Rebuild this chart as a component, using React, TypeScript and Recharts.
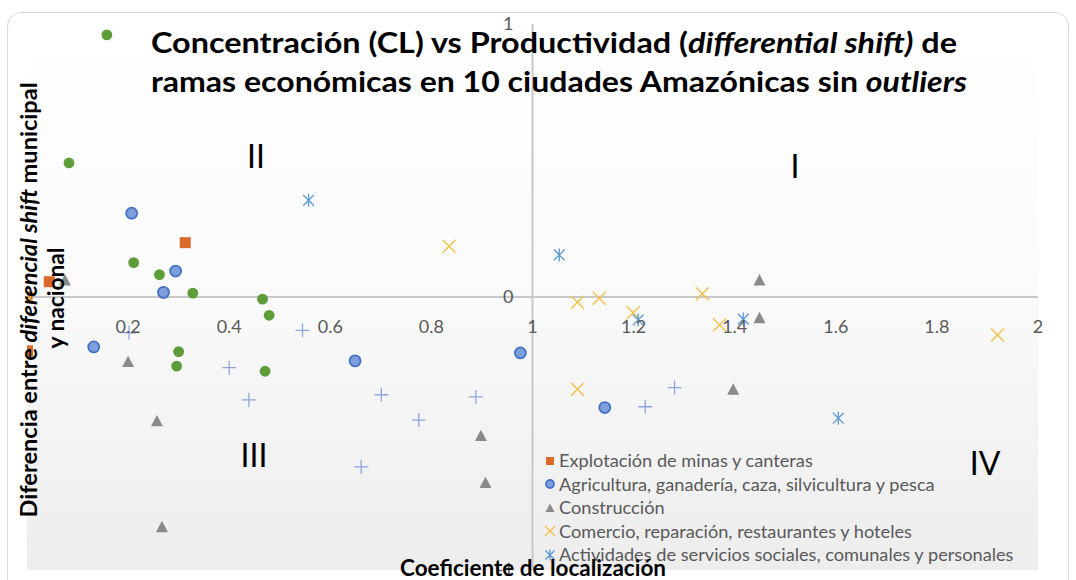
import React from 'react';
import { ScatterChart, Scatter, XAxis, YAxis, ReferenceLine, Legend } from 'recharts';

const W = 1076;
const H = 580;
const M = { top: 24, right: 38, bottom: 9, left: 26 };
const PLOT_W = W - M.left - M.right - 1;
const PLOT_H = H - M.top - M.bottom - 1;
const ZERO_Y = M.top + PLOT_H / 2;
const ONE_X = M.left + 1 + PLOT_W / 2;
const FONT = 'Lato, "Open Sans", sans-serif';

const xTicks = [0.2, 0.4, 0.6, 0.8, 1, 1.2, 1.4, 1.6, 1.8, 2];
const yTicks = [-1, 0, 1];

// [CL, differential shift]
const minas = [[0.313, 0.199], [0.044, 0.056], [0.001, -0.197], [0.0, 0.0]];
const agricultura = [[0.207, 0.307], [0.294, 0.095], [0.27, 0.017], [0.132, -0.183], [0.649, -0.234], [0.976, -0.205], [1.143, -0.405]];
const construccion = [[0.075, 0.062], [0.2, -0.237], [0.257, -0.454], [0.267, -0.842], [0.898, -0.508], [0.907, -0.68], [1.449, 0.062], [1.449, -0.076], [1.397, -0.338]];
const comercio = [[0.835, 0.186], [1.089, -0.019], [1.132, -0.005], [1.199, -0.058], [1.336, 0.012], [1.37, -0.103], [1.92, -0.139], [1.089, -0.338], [0.004, -0.004]];
const servicios = [[0.557, 0.354], [1.053, 0.154], [1.209, -0.084], [1.417, -0.081], [1.605, -0.444]];
const serieVerde = [[0.158, 0.96], [0.083, 0.491], [0.211, 0.126], [0.262, 0.082], [0.328, 0.014], [0.466, -0.008], [0.479, -0.067], [0.3, -0.2], [0.296, -0.253], [0.471, -0.272]];
const serieCruz = [[0.202, -0.131], [0.4, -0.259], [0.545, -0.122], [0.439, -0.377], [0.701, -0.358], [0.775, -0.451], [0.888, -0.366], [0.661, -0.622], [1.281, -0.332], [1.223, -0.402]];

const toPts = (arr: number[][]) => arr.map(([x, y]) => ({ x, y }));

const C = {
  orange: '#DA6B2A',
  blueFill: '#7E9EDC',
  blueStroke: '#4472C4',
  gray: '#8A8A8A',
  yellow: '#F2C14A',
  star: '#5B9BD5',
  green: '#5E9C3A',
  plus: '#8EA6DE',
};

const Square = ({ cx, cy, s = 11 }: any) => <rect x={cx - s / 2} y={cy - s / 2} width={s} height={s} fill={C.orange} />;
const Circle = ({ cx, cy, s = 13 }: any) => <circle cx={cx} cy={cy} r={s / 2 - 1} fill={C.blueFill} stroke={C.blueStroke} strokeWidth={1.8} />;
const Tri = ({ cx, cy, s = 12 }: any) => (
  <polygon points={`${cx},${cy - s * 0.5} ${cx + s / 2},${cy + s * 0.45} ${cx - s / 2},${cy + s * 0.45}`} fill={C.gray} />
);
const Ex = ({ cx, cy, s = 13 }: any) => (
  <path d={`M${cx - s / 2},${cy - s / 2}L${cx + s / 2},${cy + s / 2}M${cx - s / 2},${cy + s / 2}L${cx + s / 2},${cy - s / 2}`} stroke={C.yellow} strokeWidth={1.4} fill="none" />
);
const Star = ({ cx, cy, s = 13 }: any) => (
  <path d={`M${cx - s / 2.4},${cy - s / 2.4}L${cx + s / 2.4},${cy + s / 2.4}M${cx - s / 2.4},${cy + s / 2.4}L${cx + s / 2.4},${cy - s / 2.4}M${cx},${cy - s / 2}L${cx},${cy + s / 2}`} stroke={C.star} strokeWidth={1.3} fill="none" />
);
const Dot = ({ cx, cy }: any) => <circle cx={cx} cy={cy} r={5.4} fill={C.green} />;
const Plus = ({ cx, cy, s = 14 }: any) => (
  <path d={`M${cx - s / 2},${cy}L${cx + s / 2},${cy}M${cx},${cy - s / 2}L${cx},${cy + s / 2}`} stroke={C.plus} strokeWidth={1.3} fill="none" />
);

const legendOrder = [
  'Explotación de minas y canteras',
  'Agricultura, ganadería, caza, silvicultura y pesca',
  'Construcción',
  'Comercio, reparación, restaurantes y hoteles',
  'Actividades de servicios sociales, comunales y personales',
];

const legendMarkers: Record<string, (cx: number, cy: number) => React.ReactNode> = {
  [legendOrder[0]]: (cx, cy) => <Square cx={cx} cy={cy} s={8} />,
  [legendOrder[1]]: (cx, cy) => <Circle cx={cx} cy={cy} s={10} />,
  [legendOrder[2]]: (cx, cy) => <Tri cx={cx} cy={cy} s={9} />,
  [legendOrder[3]]: (cx, cy) => <Ex cx={cx} cy={cy} s={10} />,
  [legendOrder[4]]: (cx, cy) => <Star cx={cx} cy={cy} s={11} />,
};

const LegendBox = ({ payload }: any) => {
  const items = (payload || [])
    .filter((p: any) => legendMarkers[p.value])
    .sort((a: any, b: any) => legendOrder.indexOf(a.value) - legendOrder.indexOf(b.value));
  return (
    <div style={{ fontFamily: FONT, fontSize: 18.2, color: '#595959', lineHeight: '23.5px' }}>
      {items.map((p: any) => (
        <div key={p.value} style={{ display: 'flex', alignItems: 'center', whiteSpace: 'nowrap' }}>
          <svg width={14} height={14} style={{ marginRight: 2 }}>
            {legendMarkers[p.value](7, 7)}
          </svg>
          <span>{p.value}</span>
        </div>
      ))}
    </div>
  );
};

const XTick = (props: any) => (
  <text x={props.x} y={ZERO_Y + 36} textAnchor="middle" fontFamily={FONT} fontSize={18} fill="#595959">
    {props.payload.value}
  </text>
);

const YTick = (props: any) => (
  <text x={ONE_X - 19} y={props.y + 6} textAnchor="end" fontFamily={FONT} fontSize={18} fill="#595959">
    {props.payload.value}
  </text>
);

export default function App() {
  return (
    <div style={{ position: 'absolute', left: 0, top: 0, width: W, height: H, overflow: 'hidden', background: '#fff' }}>
      <div style={{ position: 'absolute', left: 7, top: 12, width: 1060, height: 620, border: '1.5px solid #D9D9D9', borderRadius: 14 }} />
      <div
        style={{
          position: 'absolute', left: 27, top: M.top, width: PLOT_W, height: PLOT_H,
          background: 'linear-gradient(to bottom, #ffffff 0%, #fbfbfb 45%, #ededed 100%)',
        }}
      />
      <div style={{ position: 'absolute', left: 0, top: 0 }}>
        <ScatterChart width={W} height={H} margin={M}>
          <XAxis type="number" dataKey="x" domain={[0, 2]} ticks={xTicks} interval={0} height={1} axisLine={false} tickLine={false} tick={XTick} allowDataOverflow />
          <YAxis type="number" dataKey="y" domain={[-1, 1]} ticks={yTicks} interval={0} width={1} axisLine={false} tickLine={false} tick={YTick} allowDataOverflow />
          <ReferenceLine x={1} stroke="#C8C8C8" strokeWidth={2} />
          <ReferenceLine y={0} stroke="#C8C8C8" strokeWidth={2} />
          <Scatter name={legendOrder[0]} data={toPts(minas)} fill={C.orange} shape={(p: any) => <Square cx={p.cx} cy={p.cy} />} isAnimationActive={false} />
          <Scatter name={legendOrder[1]} data={toPts(agricultura)} fill={C.blueFill} shape={(p: any) => <Circle cx={p.cx} cy={p.cy} />} isAnimationActive={false} />
          <Scatter name={legendOrder[2]} data={toPts(construccion)} fill={C.gray} shape={(p: any) => <Tri cx={p.cx} cy={p.cy} />} isAnimationActive={false} />
          <Scatter name={legendOrder[3]} data={toPts(comercio)} fill={C.yellow} shape={(p: any) => <Ex cx={p.cx} cy={p.cy} />} isAnimationActive={false} />
          <Scatter name={legendOrder[4]} data={toPts(servicios)} fill={C.star} shape={(p: any) => <Star cx={p.cx} cy={p.cy} />} isAnimationActive={false} />
          <Scatter name="Serie verde" legendType="none" data={toPts(serieVerde)} fill={C.green} shape={(p: any) => <Dot cx={p.cx} cy={p.cy} />} isAnimationActive={false} />
          <Scatter name="Serie cruz" legendType="none" data={toPts(serieCruz)} fill={C.plus} shape={(p: any) => <Plus cx={p.cx} cy={p.cy} />} isAnimationActive={false} />
          <Legend
            content={<LegendBox />}
            layout="vertical"
            align="center"
            verticalAlign="middle"
            wrapperStyle={{ position: 'absolute', left: 543, top: 449, width: 530 }}
          />
        </ScatterChart>
      </div>
      <svg width={W} height={H} style={{ position: 'absolute', left: 0, top: 0, pointerEvents: 'none' }}>
        <g fontFamily={FONT} fill="#000">
          <text x={151} y={53} fontSize={29} fontWeight={700} textLength={806} lengthAdjust="spacingAndGlyphs">
            Concentración (CL) vs Productividad (<tspan fontStyle="italic">differential  shift)</tspan> de
          </text>
          <text x={151} y={92} fontSize={29} fontWeight={700} textLength={816} lengthAdjust="spacingAndGlyphs">
            ramas económicas en 10 ciudades Amazónicas sin <tspan fontStyle="italic">outliers</tspan>
          </text>
          <text transform="translate(37,300) rotate(-90)" textAnchor="middle" fontSize={22} fontWeight={700} textLength={435} lengthAdjust="spacingAndGlyphs">
            Diferencia entre <tspan fontStyle="italic">diferencial shift</tspan> municipal
          </text>
          <text transform="translate(64,298) rotate(-90)" textAnchor="middle" fontSize={22} fontWeight={700} textLength={101} lengthAdjust="spacingAndGlyphs">
            y nacional
          </text>
          <text x={533} y={576} textAnchor="middle" fontSize={22} fontWeight={700} textLength={266} lengthAdjust="spacingAndGlyphs">
            Coeficiente de localización
          </text>
          <text x={256} y={168} textAnchor="middle" fontSize={32}>II</text>
          <text x={795} y={178} textAnchor="middle" fontSize={32}>I</text>
          <text x={254} y={467} textAnchor="middle" fontSize={32}>III</text>
          <text x={985} y={475} textAnchor="middle" fontSize={32}>IV</text>
        </g>
      </svg>
    </div>
  );
}
